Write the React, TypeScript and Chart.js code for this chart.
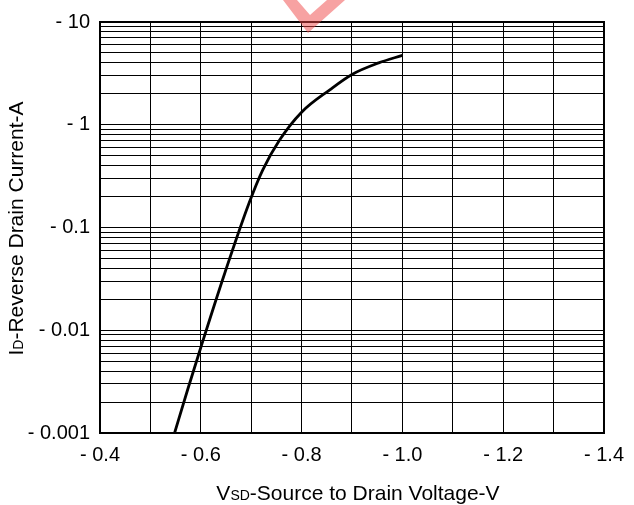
import React, { useEffect, useRef } from 'react';
import { Chart, registerables } from 'chart.js';

Chart.register(...registerables);

const FONT = '"Liberation Sans", Arial, Helvetica, sans-serif';

// Curve: reverse drain current (A, magnitude) vs source-drain voltage (V, magnitude)
const voltage = [0.548, 0.574, 0.6, 0.647, 0.696, 0.723, 0.756, 0.8, 0.856, 0.9, 0.953, 1.0];
const current = [0.001, 0.00265, 0.0068, 0.0353, 0.174, 0.364, 0.706, 1.325, 2.19, 3.09, 4.0, 4.74];

// X axis ticks (grid every 0.1, label every 0.2)
const xTickValues = [0.4, 0.5, 0.6, 0.7, 0.8, 0.9, 1.0, 1.1, 1.2, 1.3, 1.4];
const xTickLabels = ['- 0.4', '', '- 0.6', '', '- 0.8', '', '- 1.0', '', '- 1.2', '', '- 1.4'];

// Y axis (log) decades and labels, with minor grid multipliers
const yDecades = [0.001, 0.01, 0.1, 1, 10];
const yTickLabels = ['- 0.001', '- 0.01', '- 0.1', '- 1', '- 10'];
const yMinorMultipliers = [2, 3, 4, 5, 6, 7, 8, 9];

const xTitleParts = [
  { t: 'V', small: false },
  { t: 'SD', small: true },
  { t: '-Source to Drain Voltage-V', small: false },
];
const yTitleParts = [
  { t: 'I', small: false },
  { t: 'D', small: true },
  { t: '-Reverse Drain Current-A', small: false },
];

const TITLE_SIZE = 21;
const SMALL_SIZE = 14;

function drawMixed(ctx: CanvasRenderingContext2D, parts: { t: string; small: boolean }[], x: number, y: number) {
  const widths: number[] = [];
  let total = 0;
  for (const p of parts) {
    ctx.font = `${p.small ? SMALL_SIZE : TITLE_SIZE}px ${FONT}`;
    const w = ctx.measureText(p.t).width;
    widths.push(w);
    total += w;
  }
  let cx = x - total / 2;
  ctx.textBaseline = 'alphabetic';
  ctx.textAlign = 'left';
  parts.forEach((p, i) => {
    ctx.font = `${p.small ? SMALL_SIZE : TITLE_SIZE}px ${FONT}`;
    ctx.fillText(p.t, cx, y);
    cx += widths[i];
  });
}

const framePlugin = {
  id: 'frameAndTitles',
  afterDatasetsDraw(chart: any) {
    const { ctx, chartArea } = chart;
    ctx.save();
    ctx.strokeStyle = '#000';
    ctx.lineWidth = 2;
    ctx.strokeRect(chartArea.left, chartArea.top, chartArea.right - chartArea.left, chartArea.bottom - chartArea.top);
    ctx.restore();
  },
  afterDraw(chart: any) {
    const { ctx, chartArea } = chart;
    ctx.save();
    ctx.fillStyle = '#000';
    const cxMid = (chartArea.left + chartArea.right) / 2 + 6;
    drawMixed(ctx, xTitleParts, cxMid, chartArea.bottom + 67);
    const cyMid = (chartArea.top + chartArea.bottom) / 2 + 1;
    ctx.translate(23, cyMid);
    ctx.rotate(-Math.PI / 2);
    drawMixed(ctx, yTitleParts, 0, 0);
    ctx.restore();

    // faint red watermark at the top
    ctx.save();
    ctx.fillStyle = 'rgba(240, 70, 70, 0.5)';
    ctx.beginPath();
    ctx.moveTo(283, 0);
    ctx.lineTo(308, 33);
    ctx.lineTo(345, 0);
    ctx.lineTo(327, 0);
    ctx.lineTo(310, 15);
    ctx.lineTo(297, 0);
    ctx.closePath();
    ctx.fill();
    ctx.restore();
  },
};

export default function App() {
  const ref = useRef<HTMLCanvasElement | null>(null);

  useEffect(() => {
    if (!ref.current) return;
    const yGrid: number[] = [];
    yDecades.forEach((d, i) => {
      yGrid.push(d);
      if (i < yDecades.length - 1) yMinorMultipliers.forEach((m) => yGrid.push(+(d * m).toPrecision(3)));
    });

    const chart = new Chart(ref.current, {
      type: 'line',
      data: {
        datasets: [
          {
            data: voltage.map((v, i) => ({ x: v, y: current[i] })),
            borderColor: '#000',
            borderWidth: 2.8,
            pointRadius: 0,
            fill: false,
            cubicInterpolationMode: 'monotone',
          },
        ],
      },
      options: {
        animation: false,
        responsive: true,
        maintainAspectRatio: false,
        layout: { padding: { top: 17, right: 28, left: 0, bottom: 0 } },
        plugins: { legend: { display: false }, tooltip: { enabled: false } },
        scales: {
          x: {
            type: 'linear',
            min: 0.4,
            max: 1.4,
            afterBuildTicks: (scale: any) => {
              scale.ticks = xTickValues.map((v) => ({ value: v }));
            },
            afterFit: (scale: any) => {
              scale.height = 72;
            },
            grid: { color: '#000', lineWidth: 1, drawTicks: false },
            border: { display: false },
            ticks: {
              autoSkip: false,
              maxRotation: 0,
              padding: 10,
              color: '#000',
              font: { family: FONT, size: 20 },
              callback: (_v: any, idx: number) => xTickLabels[idx] ?? '',
            },
          },
          y: {
            type: 'logarithmic',
            min: 0.001,
            max: 10,
            afterBuildTicks: (scale: any) => {
              scale.ticks = yGrid.map((v) => ({ value: v, major: yDecades.includes(v) }));
            },
            afterFit: (scale: any) => {
              scale.width = 100;
            },
            grid: { color: '#000', lineWidth: 1, drawTicks: false },
            border: { display: false },
            ticks: {
              autoSkip: false,
              padding: 10,
              color: '#000',
              font: { family: FONT, size: 20 },
              callback: (v: any) => {
                const i = yDecades.findIndex((d) => Math.abs(d - Number(v)) < d * 1e-6);
                return i >= 0 ? yTickLabels[i] : '';
              },
            },
          },
        },
      },
      plugins: [framePlugin],
    } as any);
    return () => chart.destroy();
  }, []);

  return (
    <div style={{ position: 'absolute', left: 0, top: 0, width: 634, height: 505, background: '#fff' }}>
      <canvas ref={ref} />
    </div>
  );
}
